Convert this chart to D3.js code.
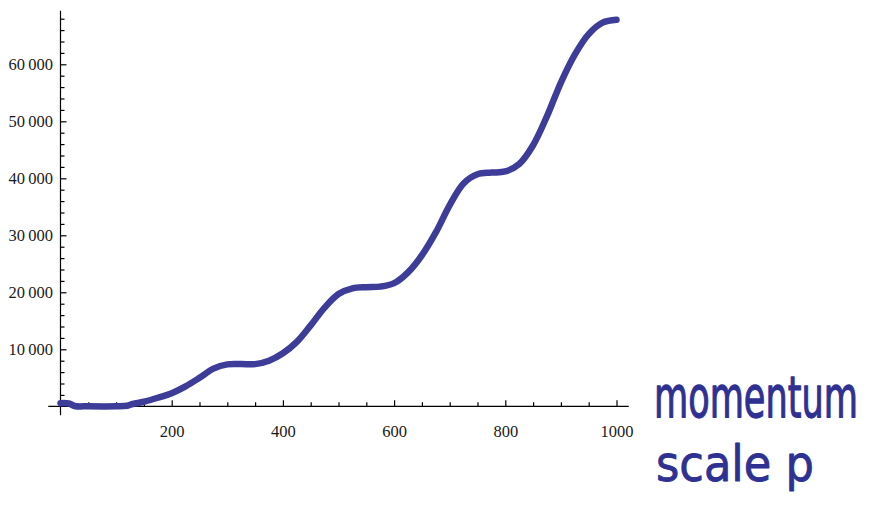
<!DOCTYPE html>
<html>
<head>
<meta charset="utf-8">
<script src="https://cdn.jsdelivr.net/npm/d3@7"></script>
<style>
  html, body { margin: 0; padding: 0; background: #fff; }
  svg { display: block; }
</style>
</head>
<body>
<script>
// Curve samples (x = step, y = accumulated value)
const xs = [0, 15, 25, 50, 100, 120, 130, 150, 175, 200, 225, 250, 275, 300, 325, 350, 375, 400,
            425, 450, 475, 500, 525, 550, 575, 600, 625, 650, 675, 700, 725, 750, 775, 800,
            825, 850, 875, 900, 925, 950, 975, 1000];
const ys = [550, 500, 60, 0, 0, 100, 400, 800, 1500, 2300, 3500, 5000, 6600, 7350, 7400, 7400, 8000, 9300,
            11300, 14200, 17300, 19700, 20700, 20900, 21000, 21600, 23500, 26500, 30500, 35300, 39100, 40700, 41000, 41200,
            42500, 45800, 50900, 56800, 61700, 65300, 67300, 67800];

const xTicks = [200, 400, 600, 800, 1000];
const yTicks = [10000, 20000, 30000, 40000, 50000, 60000];
const xMinor = d3.range(50, 1001, 50).filter(d => d % 200 !== 0);
const yMinor = d3.range(2000, 68001, 2000).filter(d => d % 10000 !== 0);

const labels = ["momentum", "scale p"];

const W = 872, H = 508;
const svg = d3.select("body").append("svg")
    .attr("width", W)
    .attr("height", H);

const x = d3.scaleLinear().domain([0, 1000]).range([60.5, 616.5]);
const y = d3.scaleLinear().domain([0, 60000]).range([406.3, 64.3]);

const fmtY = d3.formatLocale({ decimal: ".", thousands: "\u2009", grouping: [3], currency: ["", ""] }).format(",");

// axis lines (Mathematica style, crossing at origin)
const axisG = svg.append("g").attr("stroke", "#000").attr("stroke-width", 1.2);
axisG.append("line")
    .attr("x1", x(-22)).attr("x2", x(1022))
    .attr("y1", y(0)).attr("y2", y(0));
axisG.append("line")
    .attr("x1", x(0)).attr("x2", x(0))
    .attr("y1", y(-1550)).attr("y2", y(69400));

// x axis: major + minor ticks pointing up
svg.append("g")
    .attr("transform", `translate(0,${y(0)})`)
    .call(d3.axisBottom(x).tickValues(xTicks).tickFormat(d3.format("d"))
        .tickSizeInner(-6).tickSizeOuter(0).tickPadding(18.5));
svg.append("g")
    .attr("transform", `translate(0,${y(0)})`)
    .call(d3.axisBottom(x).tickValues(xMinor).tickFormat("")
        .tickSizeInner(-4).tickSizeOuter(0));

// y axis: ticks pointing right, labels left
svg.append("g")
    .attr("transform", `translate(${x(0)},0)`)
    .call(d3.axisLeft(y).tickValues(yTicks).tickFormat(fmtY)
        .tickSizeInner(-6).tickSizeOuter(0).tickPadding(7.5));
svg.append("g")
    .attr("transform", `translate(${x(0)},0)`)
    .call(d3.axisLeft(y).tickValues(yMinor).tickFormat("")
        .tickSizeInner(-4).tickSizeOuter(0));

svg.selectAll(".domain").remove();
svg.selectAll(".tick line").attr("stroke", "#000").attr("stroke-width", 1.2);
svg.selectAll(".tick text")
    .attr("fill", "#1a1a1a")
    .style("font-family", "'Liberation Serif', 'Times New Roman', serif")
    .style("font-size", "16.5px");

// the curve
const pts = xs.map((d, i) => [d, ys[i]]);
const line = d3.line()
    .x(d => x(d[0]))
    .y(d => y(d[1]))
    .curve(d3.curveCatmullRom.alpha(0.5));

svg.append("path")
    .datum(pts)
    .attr("d", line)
    .attr("fill", "none")
    .attr("stroke", "#3d3d99")
    .attr("stroke-width", 6.5)
    .attr("stroke-linecap", "round")
    .attr("stroke-linejoin", "round");

// handwritten annotation, stretched to the size of the handwriting
function note(str, left, base, width, fs, sy) {
    const t = svg.append("text")
        .attr("fill", "#2e3192")
        .attr("stroke", "#2e3192")
        .attr("stroke-width", 0.8)
        .attr("stroke-linejoin", "round")
        .style("font-family", "'DejaVu Sans', sans-serif")
        .style("font-size", fs + "px")
        .text(str);
    const sx = width / t.node().getComputedTextLength();
    t.attr("transform", `translate(${left},${base}) scale(${sx},${sy})`);
}
note(labels[0], 654, 417, 204, 36, 1.6);
note(labels[1], 656, 481, 158, 44, 1.15);
</script>
</body>
</html>
